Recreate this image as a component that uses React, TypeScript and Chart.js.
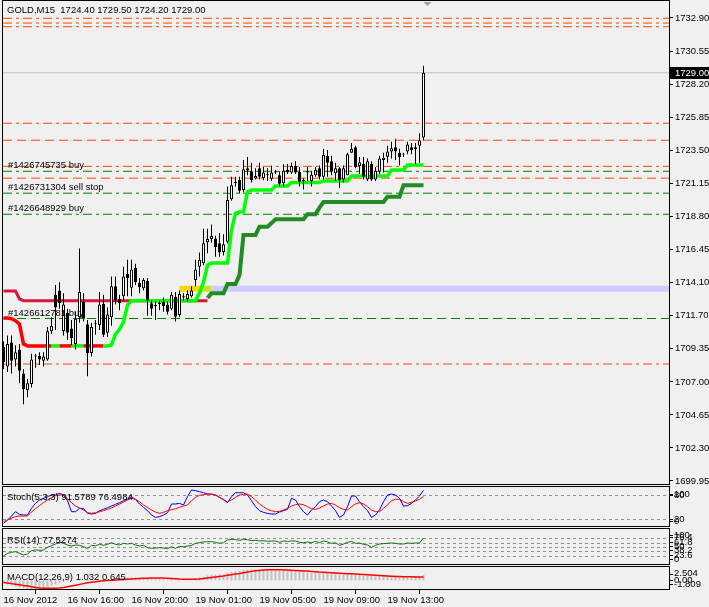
import React, { useEffect, useRef } from 'react';
import { Chart, registerables } from 'chart.js';
Chart.register(...registerables);

const FAMILY = '"Liberation Sans", Arial, sans-serif';
const FONT_SIZE = 9.5;
const BG = '#f0f0f0';

// ---- price bars (M15) ----
const OPEN = [1709.5,1708.1,1709.8,1708.6,1709.3,1707.6,1706.4,1706.85,1708.8,1708.85,
1708.5,1708.6,1710.6,1713.2,1713.5,1710.6,1711.9,1710.8,1709.7,1711.6,
1712.7,1711.1,1709.05,1711.1,1711.05,1712.55,1710.5,1711.6,1713.8,1712.9,
1713.1,1714.7,1713.7,1715.1,1714.06,1713.66,1714.2,1712.6,1712.45,1712.6,
1712.7,1712.5,1712.2,1713.06,1711.76,1713.1,1712.9,1713.1,1714.25,1715.2,
1715.44,1716.93,1717.17,1717.2,1716.86,1716.25,1716.98,1720.0,1721.2,1721.37,
1720.66,1722.2,1722.0,1721.47,1722.2,1721.5,1721.75,1721.45,1722.0,1721.7,
1721.13,1722.1,1721.9,1722.37,1721.96,1721.35,1721.9,1721.3,1721.7,1722.2,
1721.6,1723.08,1722.7,1721.85,1722.2,1721.4,1721.7,1723.3,1723.7,1722.37,
1722.5,1721.4,1722.5,1721.4,1721.96,1722.8,1723.03,1723.4,1723.7,1723.3,
1723.18,1723.4,1723.7,1723.55,1723.8,1724.4];
const HIGH = [1709.9,1710.3,1710.3,1709.6,1709.7,1707.9,1707.2,1709.0,1709.0,1709.1,
1709.1,1710.9,1711.6,1713.9,1714.1,1713.3,1712.2,1711.4,1712.0,1716.5,
1713.3,1711.4,1711.2,1711.4,1713.4,1713.2,1712.3,1714.5,1714.5,1713.2,
1715.2,1715.7,1715.7,1715.4,1714.4,1714.4,1714.4,1712.8,1712.7,1712.8,
1713.0,1712.7,1713.4,1713.4,1713.5,1713.3,1713.5,1713.8,1715.7,1716.2,
1717.9,1717.9,1718.2,1717.4,1717.6,1717.5,1720.9,1721.6,1721.6,1721.6,
1722.8,1723.0,1722.6,1722.2,1722.6,1722.3,1722.2,1722.4,1722.1,1722.0,
1722.5,1722.5,1722.6,1722.7,1722.3,1721.5,1722.3,1722.0,1722.3,1722.4,
1723.6,1723.5,1723.1,1722.6,1722.3,1722.4,1723.3,1724.0,1723.8,1723.0,
1723.0,1722.9,1722.7,1722.3,1723.1,1723.3,1723.8,1724.1,1724.3,1723.6,
1723.3,1724.1,1724.0,1724.0,1724.7,1729.5];
const LOW = [1707.9,1707.7,1707.6,1708.1,1706.9,1705.4,1705.9,1706.6,1708.0,1708.2,
1708.1,1708.5,1710.4,1710.7,1712.2,1710.3,1710.0,1709.6,1709.3,1711.2,
1711.3,1707.4,1708.8,1710.35,1710.7,1710.2,1710.2,1711.0,1712.5,1712.1,
1712.8,1713.1,1713.1,1713.9,1713.3,1713.5,1711.7,1711.7,1711.4,1712.1,
1712.0,1711.8,1712.1,1711.3,1711.6,1712.8,1712.7,1713.0,1713.8,1714.5,
1715.3,1716.15,1716.9,1715.9,1715.9,1716.0,1716.85,1719.9,1720.9,1720.4,
1720.5,1721.7,1721.2,1721.4,1721.4,1721.35,1721.3,1721.3,1721.8,1720.9,
1720.9,1721.8,1721.8,1721.8,1720.9,1720.7,1721.3,1720.9,1721.6,1721.4,
1721.4,1721.6,1721.7,1721.3,1720.8,1721.2,1721.7,1723.3,1722.2,1721.8,
1721.4,1721.3,1721.3,1721.3,1721.8,1721.9,1722.6,1722.9,1722.8,1722.4,
1723.0,1723.2,1723.2,1722.5,1722.6,1724.2];
const CLOSE = [1708.4,1709.7,1708.5,1709.1,1707.8,1706.5,1706.9,1708.6,1708.85,1708.6,
1708.8,1710.6,1711.0,1712.3,1712.6,1712.5,1710.5,1710.1,1711.5,1713.4,
1711.5,1709.05,1710.9,1711.15,1712.5,1710.35,1711.8,1713.8,1712.8,1712.6,
1714.5,1714.4,1715.0,1714.1,1713.73,1714.25,1712.8,1712.2,1712.4,1712.55,
1712.4,1712.0,1713.2,1711.64,1713.26,1713.0,1713.26,1713.5,1715.0,1715.7,
1716.86,1717.17,1717.38,1716.6,1716.2,1716.8,1719.95,1721.0,1721.15,1720.6,
1722.13,1722.05,1721.37,1721.65,1721.6,1721.9,1721.7,1721.9,1721.9,1721.1,
1722.03,1721.9,1722.37,1721.9,1721.25,1721.3,1722.0,1721.75,1722.1,1721.6,
1723.15,1722.6,1721.96,1722.2,1721.37,1722.2,1723.2,1723.6,1722.3,1722.63,
1721.6,1722.7,1721.4,1722.03,1722.9,1722.95,1723.4,1723.63,1723.4,1723.0,
1723.2,1723.9,1723.5,1723.7,1724.2,1729.0];

// ---- indicators drawn on the price pane ----
const TREND_LINE = [1711.55,1711.55,1711.5,1711.35,1711.1,1709.7,1709.56,1709.56,1709.56,1709.56,
1709.56,1709.56,1709.56,1709.56,1709.56,1709.56,1709.56,1709.56,1709.56,1709.56,
1709.56,1709.56,1709.56,1709.56,1709.56,1709.56,1709.56,1709.63,1710.4,1710.73,
1711.26,1712.47,1712.78,1712.78,1712.78,1712.78,1712.78,1712.78,1712.78,1712.78,
1712.78,1712.78,1712.78,1712.78,1712.78,1712.78,1712.78,1712.78,1712.78,1713.33,
1714.1,1715.3,1715.46,1715.46,1715.46,1715.46,1715.46,1717.8,1719.0,1719.1,
1719.1,1720.54,1720.66,1720.66,1720.66,1720.66,1720.66,1720.66,1720.94,1720.94,
1720.94,1720.94,1721.2,1721.2,1721.2,1721.2,1721.2,1721.2,1721.2,1721.2,
1721.3,1721.3,1721.3,1721.3,1721.3,1721.3,1721.3,1721.65,1721.65,1721.65,
1721.65,1721.65,1721.65,1721.65,1721.65,1721.65,1721.65,1722.08,1722.08,1722.08,
1722.08,1722.44,1722.44,1722.44,1722.44,1722.44];
const TREND_UP = [0,0,0,0,0,0,0,0,0,0, 0,0,1,1,0,0,0,1,1,1, 0,0,0,0,0,1,1,1,1,1,
1,1,1,1,1,1,1,1,1,1, 1,1,1,1,1,1,1,1,1,1, 1,1,1,1,1,1,1,1,1,1, 1,1,1,1,1,1,1,1,1,1,
1,1,1,1,1,1,1,1,1,1, 1,1,1,1,1,1,1,1,1,1, 1,1,1,1,1,1,1,1,1,1, 1,1,1,1,1,1];
const RESIST_LINE = [1713.47,1713.47,1713.47,1713.47,1712.9,1712.78,1712.78,1712.78,1712.78,1712.78,
1712.78,1712.78,1712.78,1712.78,1712.78,1712.78,1712.78,1712.78,1712.78,1712.78,
1712.78,1712.78,1712.78,1712.78,1712.78,1712.78,1712.78,1712.78,1712.78,1712.78,
1712.78,1712.78,1712.78,1712.78,1712.78,1712.78,1712.78,1712.78,1712.78,1712.78,
1712.78,1712.78,1712.78,1712.78,1712.78,1712.78,1712.78,1712.78,1712.78,1712.78,
1712.78,1712.78];
const SUPPORT_START = 51;
const SUPPORT_LINE = [1712.97,1713.3,1713.3,1713.3,1713.3,1713.97,1713.97,1713.97,1714.6,1717.46,
1717.46,1717.46,1717.46,1718.05,1718.05,1718.05,1718.3,1718.57,1718.57,1718.57,
1718.57,1718.57,1718.57,1718.57,1718.57,1718.93,1718.93,1718.93,1719.4,1719.8,
1719.8,1719.8,1719.8,1719.8,1719.8,1719.8,1719.8,1719.8,1719.8,1719.8,
1719.8,1719.8,1719.8,1719.8,1719.8,1720.18,1720.18,1720.18,1720.18,1721.0,
1721.0,1721.0,1721.0,1721.0,1721.0];

// ---- zone band (bar index from/to, price) ----
const BAND_FROM = [44, 50, 52];
const BAND_TO = [50, 52, 170];
const BAND_PRICE = 1713.63;

// ---- order / level lines ----
const LEVEL_PRICES = [1732.88,1732.54,1732.28,1725.41,1724.20,1722.34,1721.99,1721.50,1720.43,1718.93,1711.51,1708.27];
const LEVEL_KIND = ['od','od','od','od','o','od','gd','o','gd','gd','g','od'];
const ORDER_TEXT = ['#1426745735 buy','#1426731304 sell stop','#1426648929 buy','#1426612781 buy'];
const ORDER_TEXT_PRICE = [1721.99, 1720.43, 1718.93, 1711.51];
const BID = 1729.00;
const HEADER = 'GOLD,M15  1724.40 1729.50 1724.20 1729.00';

// ---- axes ----
const Y_TICKS = [1732.90,1730.55,1728.20,1725.85,1723.50,1721.15,1718.80,1716.45,1714.10,1711.70,1709.35,1707.00,1704.65,1702.30,1699.95];
const TIME_IDX = [0,16,32,48,64,80,96];
const TIME_LABELS = ['16 Nov 2012','16 Nov 16:00','16 Nov 20:00','19 Nov 01:00','19 Nov 05:00','19 Nov 09:00','19 Nov 13:00'];

// ---- Stochastic(5,3,3) ----
const STOCH_K = [10.1,18.1,28.1,38.8,32.2,30.6,30.6,47.0,59.4,67.7,
71.8,75.9,80,80,84.1,80,66,38.8,38.8,47,
47,34.7,33.0,34.7,41.3,44.6,48.7,52.8,57,61.1,
66,70.1,75.9,69.3,57.8,49.5,41.3,30.6,24.8,26.5,
30.6,36.3,57.8,57.8,59.4,55.3,75.9,92.4,90.7,88.2,
85.7,82.4,82.4,80,74.2,69.3,61.1,75.9,85.7,85.7,
85.7,80,66,51.2,41.3,37.1,34.7,33.0,33.0,38,
41.3,44.6,71.8,67.7,51.2,38.8,30.6,43,51.2,63.5,
67.7,63.5,52.8,41.3,24.8,30.6,51.2,77.5,77.5,63.5,
51.2,41.3,24.8,30.6,43,63.5,80,82.4,80,71.8,
52.8,53.7,59.4,67.7,77.5,91.58];
const STOCH_D = [14.2,18.1,23.2,26.5,28.1,28.1,28.1,38,46.2,53.7,
61.1,67.7,73.4,78.4,80,80,71,61.1,52.8,47.9,
43,36.3,34.7,36.3,38.8,41.3,44.6,47.9,52.8,57.8,
62.7,67.7,71.8,69.3,63.5,55.3,49.5,43,38,34.7,
37.1,41.3,43.8,46.2,49.5,52.8,55.3,66,74.2,79.2,
80.8,82.4,81.6,80,74.2,67.7,63.5,67.7,74.2,80,
81.6,82.4,75.9,67.7,57.8,51.2,44.6,41.3,38.8,39.6,
43,47,52.8,56.1,57.8,56.1,51.2,46.2,44.6,47.9,
52.8,57.8,59.4,55.3,48.7,44.6,43,51.2,57.8,61.1,
57.8,51.2,43,38.8,38.8,47,55.3,66,69.3,69.3,
63.5,59.4,61.9,65.2,69.3,76.5];
const STOCH_LEVELS = [80, 20];

// ---- RSI(14) ----
const RSI = [24.6,32.4,35.3,37.4,32.4,27.6,30.5,40.3,42.2,41.3,
42.2,50,54.9,59.8,64.7,61.8,56.9,53.9,56.9,55.9,
52,46.1,55.9,54.9,58.8,55.9,58.8,63.7,58.8,56.9,
61.8,59.8,61.8,56.9,53.9,55.9,49,47.1,48,49,
48,46.1,52,47.1,53,52,53.9,55.9,61.8,63.7,
65.7,66.7,66.7,64.7,61.8,63.7,71.6,73.5,72.5,70.6,
73.5,72.5,69.6,70.6,68.6,69.6,67.6,68.6,68.6,64.7,
68.6,67.6,68.6,68.6,64.7,63.7,65.7,63.7,67.6,63.7,
68.6,65.7,61.8,63.7,55.9,59.8,64.7,67.6,61.8,62.7,
58.8,56.9,50,55.9,59.8,60.8,61.8,62.7,61.8,59.8,
59.8,62.7,61.8,62.7,62.7,77.53];
const RSI_LEVELS = [76.4, 61.8, 50, 38.2, 23.6];

// ---- MACD(12,26,9) ----
const MACD_MAIN = [-0.6,-0.8,-1.0,-1.2,-1.4,-1.6,-1.75,-1.75,-1.7,-1.6,
-1.5,-1.3,-1.05,-0.8,-0.55,-0.3,-0.15,-0.1,0.0,0.05,
0.0,-0.15,-0.1,-0.05,0.05,0.1,0.15,0.3,0.35,0.35,
0.45,0.5,0.6,0.6,0.55,0.55,0.45,0.35,0.3,0.25,
0.2,0.15,0.2,0.1,0.15,0.15,0.2,0.25,0.4,0.55,
0.75,0.95,1.1,1.15,1.15,1.15,1.4,1.65,1.8,1.9,
2.05,2.15,2.15,2.15,2.15,2.1,2.05,2.0,1.95,1.85,
1.85,1.8,1.8,1.8,1.7,1.6,1.55,1.45,1.45,1.4,
1.45,1.45,1.35,1.3,1.15,1.1,1.15,1.2,1.1,1.05,
0.95,0.95,0.85,0.8,0.85,0.85,0.9,0.9,0.9,0.85,
0.8,0.85,0.85,0.85,0.85,1.032];
const MACD_SIGNAL = [-0.45,-0.55,-0.65,-0.75,-0.85,-1.0,-1.1,-1.25,-1.4,-1.5,
-1.55,-1.57,-1.57,-1.55,-1.5,-1.4,-1.25,-1.1,-0.95,-0.8,
-0.65,-0.5,-0.4,-0.3,-0.2,-0.1,-0.05,0.0,0.05,0.1,
0.15,0.2,0.25,0.3,0.35,0.4,0.42,0.44,0.45,0.45,
0.43,0.4,0.36,0.3,0.25,0.22,0.2,0.2,0.22,0.27,
0.35,0.45,0.55,0.65,0.75,0.85,0.97,1.1,1.22,1.35,
1.5,1.62,1.75,1.85,1.93,2.0,2.05,2.08,2.08,2.05,
2.02,2.0,1.95,1.92,1.88,1.84,1.8,1.74,1.68,1.62,
1.58,1.54,1.5,1.45,1.4,1.35,1.3,1.27,1.22,1.17,
1.12,1.07,1.02,0.97,0.93,0.88,0.84,0.8,0.77,0.74,
0.72,0.7,0.68,0.66,0.65,0.645];

const STOCH_TITLE = 'Stoch(5,3,3) 91.5789 76.4984';
const RSI_TITLE = 'RSI(14) 77.5274';
const MACD_TITLE = 'MACD(12,26,9) 1.032 0.645';

const fontCss = FONT_SIZE + 'px ' + FAMILY;

function levelStyle(kind: string) {
  const color = kind[0] === 'g' ? '#008000' : '#FF4500';
  const dash = kind.length > 1 ? [9, 4, 3, 4] : [9, 5];
  return { color, dash };
}

const mt4Plugin = {
  id: 'mt4',
  beforeDraw(chart: any) {
    const c = chart.ctx;
    c.save();
    c.fillStyle = BG;
    c.fillRect(0, 0, chart.width, chart.height);
    c.restore();
  },
  beforeDatasetsDraw(chart: any) {
    const c = chart.ctx;
    const { left, right } = chart.chartArea;
    c.save();
    c.strokeStyle = '#909090';
    c.lineWidth = 1;
    c.setLineDash([3, 3]);
    const drawLevels = (scale: any, levels: number[]) => {
      levels.forEach((v) => {
        const y = Math.round(scale.getPixelForValue(v)) + 0.5;
        c.beginPath();
        c.moveTo(left, y);
        c.lineTo(right, y);
        c.stroke();
      });
    };
    drawLevels(chart.scales.ys, STOCH_LEVELS);
    drawLevels(chart.scales.yr, RSI_LEVELS);
    c.restore();
  },
  afterDraw(chart: any) {
    const c = chart.ctx;
    const { left, right } = chart.chartArea;
    const sy = chart.scales.y, ss = chart.scales.ys, sr = chart.scales.yr, sm = chart.scales.ym;
    const xs = chart.scales.x;
    c.save();
    // panel frames (1px gap between panes)
    c.strokeStyle = '#000';
    c.lineWidth = 1;
    c.setLineDash([]);
    const L = Math.round(left) - 0.5, R = Math.round(right) + 0.5;
    c.strokeRect(L, Math.round(sy.top) - 0.5, R - L, Math.round(sy.bottom) - Math.round(sy.top));
    [ss, sr, sm].forEach((s: any) => {
      const t = Math.round(s.top) + 1.5;
      const b = Math.round(s.bottom) - 0.5;
      c.strokeRect(L, t, R - L, b - t);
    });

    c.font = fontCss;
    c.textBaseline = 'middle';
    c.textAlign = 'left';
    c.fillStyle = '#000';
    // header
    c.fillText(HEADER, 7, 10.5);
    // order descriptions
    ORDER_TEXT.forEach((t, i) => {
      c.fillText(t, 8, sy.getPixelForValue(ORDER_TEXT_PRICE[i]) - 5.5);
    });
    // indicator titles
    c.fillText(STOCH_TITLE, 7, ss.top + 12);
    c.fillText(RSI_TITLE, 7, sr.top + 13.5);
    c.fillText(MACD_TITLE, 7, sm.top + 12.5);

    // sub-pane axis labels with tick marks
    const ax = Math.round(right);
    const lab = (txt: string, y: number) => {
      c.beginPath();
      c.moveTo(ax, Math.round(y) + 0.5);
      c.lineTo(ax + 4, Math.round(y) + 0.5);
      c.stroke();
      c.fillText(txt, ax + 5, y);
    };
    const s80 = ss.getPixelForValue(80), s20 = ss.getPixelForValue(20);
    lab('100', s80 - 1);
    lab('80', s80);
    lab('20', s20);
    lab('0', s20 + 2);
    lab('100', sr.top + 8);
    RSI_LEVELS.forEach((v) => lab(String(v), sr.getPixelForValue(v) - 1));
    lab('0', sr.bottom - 6);
    const z = sm.getPixelForValue(0);
    lab('2.504', z - 6.5);
    lab('0.00', z);
    lab('-1.809', z + 4);

    // current price box
    const by = sy.getPixelForValue(BID);
    c.fillStyle = '#000';
    c.fillRect(ax + 1, Math.round(by) - 6, chart.width - ax - 1, 12);
    c.fillStyle = '#fff';
    c.fillText(BID.toFixed(2), ax + 6, Math.round(by));

    // chart shift marker
    const tx = xs.getPixelForValue(OPEN.length);
    c.fillStyle = '#a0a0a0';
    c.beginPath();
    c.moveTo(tx - 4, 2);
    c.lineTo(tx + 4, 2);
    c.lineTo(tx, 6);
    c.closePath();
    c.fill();
    c.restore();
  },
};

function buildConfig(): any {
  const ix = OPEN.map((_, i) => i);
  const datasets: any[] = [];

  // candle bodies
  datasets.push({
    type: 'bar',
    data: ix.map((i) => ({ x: i, y: [OPEN[i], CLOSE[i]] })),
    backgroundColor: ix.map((i) => (CLOSE[i] >= OPEN[i] ? '#ffffff' : '#000000')),
    borderColor: '#000',
    borderWidth: 1,
    borderSkipped: false,
    barThickness: 3,
    minBarLength: 1,
    grouped: false,
    inflateAmount: 0,
    yAxisID: 'y',
    order: 0,
  });
  // wicks
  datasets.push({
    type: 'bar',
    data: ix.map((i) => ({ x: i, y: [LOW[i], HIGH[i]] })),
    backgroundColor: '#000',
    borderWidth: 0,
    barThickness: 1,
    grouped: false,
    inflateAmount: 0,
    yAxisID: 'y',
    order: 1,
  });
  // trend line (red/green)
  datasets.push({
    type: 'line',
    data: TREND_LINE.map((v, i) => ({ x: i, y: v })),
    borderColor: '#00FF00',
    borderWidth: 3.5,
    pointRadius: 0,
    segment: { borderColor: (ctx: any) => (TREND_UP[ctx.p0DataIndex] ? '#00FF00' : '#FF0000') },
    yAxisID: 'y',
    order: 2,
  });
  // support line (dark green)
  datasets.push({
    type: 'line',
    data: SUPPORT_LINE.map((v, k) => ({ x: SUPPORT_START + k, y: v })),
    borderColor: '#228B22',
    borderWidth: 4,
    pointRadius: 0,
    yAxisID: 'y',
    order: 3,
  });
  // resistance line (crimson)
  datasets.push({
    type: 'line',
    data: RESIST_LINE.map((v, i) => ({ x: i, y: v })),
    borderColor: '#DC143C',
    borderWidth: 3,
    pointRadius: 0,
    yAxisID: 'y',
    order: 4,
  });
  // bid line
  datasets.push({
    type: 'line',
    data: [{ x: -5, y: BID }, { x: 200, y: BID }],
    borderColor: '#c0c0c0',
    borderWidth: 1,
    pointRadius: 0,
    yAxisID: 'y',
    order: 5,
  });
  // order levels
  LEVEL_PRICES.forEach((p, k) => {
    const st = levelStyle(LEVEL_KIND[k]);
    datasets.push({
      type: 'line',
      data: [{ x: -0.125, y: p }, { x: 200, y: p }],
      borderColor: st.color,
      borderDash: st.dash,
      borderWidth: 1,
      pointRadius: 0,
      yAxisID: 'y',
      order: 6,
    });
  });
  // zone bands
  const bandColors = ['#FFD700', '#C8E21E', '#CCCCFF'];
  BAND_FROM.forEach((f, k) => {
    datasets.push({
      type: 'line',
      data: [{ x: f, y: BAND_PRICE }, { x: BAND_TO[k], y: BAND_PRICE }],
      borderColor: bandColors[k],
      borderWidth: 6,
      borderCapStyle: 'butt',
      pointRadius: 0,
      yAxisID: 'y',
      order: 7 + (2 - k),
    });
  });
  // stochastic
  datasets.push({
    type: 'line', data: STOCH_D.map((v, i) => ({ x: i, y: v })),
    borderColor: '#FF0000', borderWidth: 1, pointRadius: 0, yAxisID: 'ys', order: 0,
  });
  datasets.push({
    type: 'line', data: STOCH_K.map((v, i) => ({ x: i, y: v })),
    borderColor: '#0000FF', borderWidth: 1, pointRadius: 0, yAxisID: 'ys', order: 1,
  });
  // RSI
  datasets.push({
    type: 'line', data: RSI.map((v, i) => ({ x: i, y: v })),
    borderColor: '#107010', borderWidth: 1, pointRadius: 0, yAxisID: 'yr', order: 0,
  });
  // MACD
  datasets.push({
    type: 'line', data: MACD_SIGNAL.map((v, i) => ({ x: i, y: v })),
    borderColor: '#FF0000', borderWidth: 1.5, pointRadius: 0, yAxisID: 'ym', order: 0,
  });
  datasets.push({
    type: 'bar', data: MACD_MAIN.map((v, i) => ({ x: i, y: v })),
    backgroundColor: '#C0C0C0', borderWidth: 0, barThickness: 2, grouped: false, inflateAmount: 0,
    yAxisID: 'ym', order: 1,
  });

  const hiddenY = (weight: number, min: number, max: number) => ({
    type: 'linear',
    position: 'right',
    stack: 'panes',
    stackWeight: weight,
    min,
    max,
    ticks: { display: false },
    grid: { display: false },
    border: { display: false },
    afterFit: (s: any) => { s.width = 40; s.paddingTop = 0; s.paddingBottom = 0; },
  });

  return {
    type: 'bar',
    data: { datasets },
    plugins: [mt4Plugin],
    options: {
      responsive: false,
      animation: false,
      devicePixelRatio: 1,
      events: [],
      layout: { padding: { left: 3, top: 1, right: 0, bottom: 0 } },
      plugins: { legend: { display: false }, tooltip: { enabled: false }, title: { display: false } },
      scales: {
        x: {
          type: 'linear',
          position: 'bottom',
          min: -0.125,
          max: 166.375,
          offset: false,
          afterBuildTicks: (s: any) => { s.ticks = TIME_IDX.map((v) => ({ value: v })); },
          afterFit: (s: any) => { s.height = 17; s.paddingLeft = 0; s.paddingRight = 0; },
          ticks: {
            callback: (_v: any, i: number) => TIME_LABELS[i],
            align: 'start',
            padding: 1,
            color: '#000',
            font: { family: FAMILY, size: FONT_SIZE },
            maxRotation: 0,
            minRotation: 0,
            autoSkip: false,
          },
          grid: { drawOnChartArea: false, drawTicks: true, tickLength: 4, color: '#000' },
          border: { display: false },
        },
        y: {
          type: 'linear',
          position: 'right',
          stack: 'panes',
          stackWeight: 484,
          min: 1699.66,
          max: 1734.11,
          afterBuildTicks: (s: any) => { s.ticks = Y_TICKS.map((v) => ({ value: v })); },
          afterFit: (s: any) => { s.width = 40; s.paddingTop = 0; s.paddingBottom = 0; },
          ticks: {
            callback: (v: any) => Number(v).toFixed(2),
            padding: 2,
            color: '#000',
            font: { family: FAMILY, size: FONT_SIZE },
            autoSkip: false,
          },
          grid: { drawOnChartArea: false, drawTicks: true, tickLength: 4, color: '#000' },
          border: { display: false },
        },
        ys: hiddenY(42, 1.0, 104.7),
        yr: hiddenY(38, -1.8, 109.7),
        ym: hiddenY(25, -1.9, 3.0),
      },
    },
  };
}

export default function App() {
  const ref = useRef<HTMLCanvasElement>(null);
  useEffect(() => {
    Chart.defaults.font.family = FAMILY;
    Chart.defaults.font.size = FONT_SIZE;
    const chart = new Chart(ref.current as HTMLCanvasElement, buildConfig());
    return () => chart.destroy();
  }, []);
  return (
    <div style={{ position: 'fixed', left: 0, top: 0, width: 709, height: 607, background: BG }}>
      <canvas ref={ref} width={709} height={607} style={{ display: 'block', width: 709, height: 607 }} />
    </div>
  );
}
